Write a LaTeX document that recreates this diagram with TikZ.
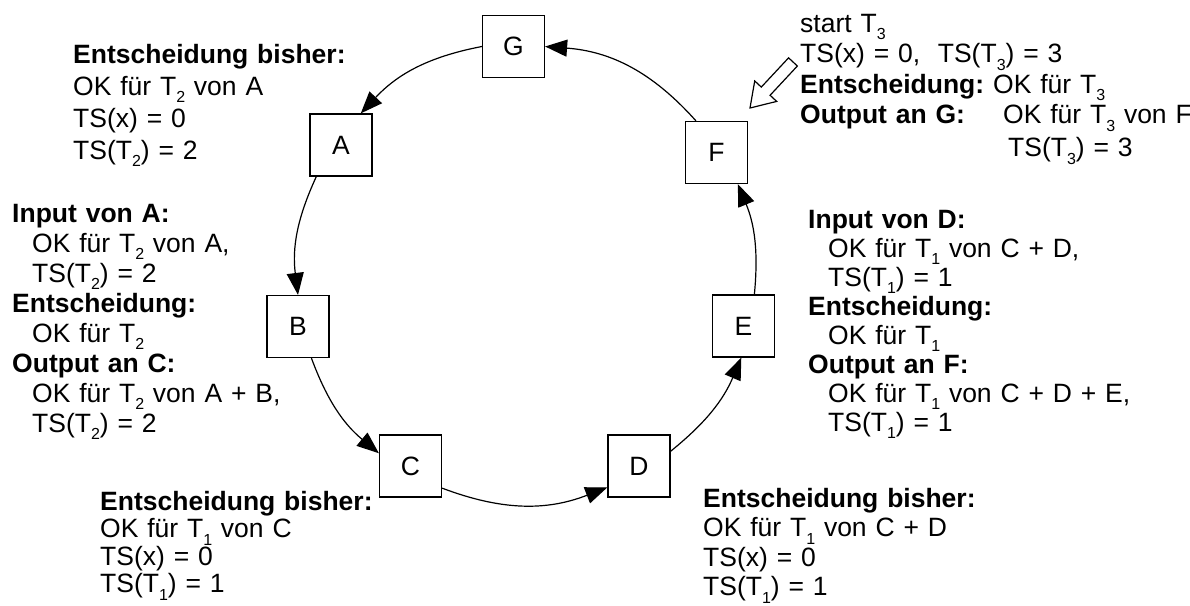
\documentclass[tikz,border=0pt]{standalone}
\usepackage{fontspec}
\setmainfont{Liberation Sans}
\usetikzlibrary{arrows.meta, positioning}
\newcommand\Tsub[1]{T\raisebox{-0.3em}{\fontsize{16}{16}\selectfont #1}}
\newcommand\ind{\hspace*{20pt}}
\tikzset{
    % Ring of sites
    site/.style={rectangle, draw=black, line width=1.2pt, fill=white,
                minimum width=62pt, minimum height=62pt, inner sep=0pt,
                font=\fontsize{26.5}{30}\selectfont},
    ringarrow/.style={-{Triangle[length=22pt, width=17pt]}, line width=1.2pt},
    % Annotations (argument = line spacing)
    note/.style={align=left, text width=330pt, anchor=base west, inner sep=0pt,
                font=\fontsize{26.5}{#1}\selectfont},
    note/.default=30,
}
\begin{document}
\lineskiplimit=-50pt
\begin{tikzpicture}[x=1pt, y=1pt]
\useasboundingbox (0,0) rectangle (1190,-605);

\node[site] (G) at (513.5,-46.5) {G};
\node[site] (A) at (341,-145)    {A};
\node[site] (B) at (298,-326.5)  {B};
\node[site] (C) at (410.5,-466)  {C};
\node[site] (D) at (639,-466)    {D};
\node[site] (E) at (743.5,-326)  {E};
\node[site] (F) at (716.5,-152.5) {F};

\draw[ringarrow] (G.180) to[bend right=18] (A.58);
\draw[ringarrow] (A.232) to[bend right=16] (B.north);
\draw[ringarrow] (B.293) to[bend right=15] (C.158);
\draw[ringarrow] (C.325) to[bend right=21] (D.214);
\draw[ringarrow] (D.25)  to[bend right=14] (E.266);
\draw[ringarrow] (E.71)  to[bend right=14] (F.304);
\draw[ringarrow] (F.123) to[bend right=22] (G.east);

% start marker
\coordinate (start) at (750,-108);
\begin{scope}[shift={(start)}, rotate=47]
\draw[line width=1.2pt, fill=white] (0,0) -- (23,15) -- (23,6) -- (63,6)
    -- (63,-6) -- (23,-6) -- (23,-15) -- cycle;
\end{scope}

\node[note=32] (prevA) at (73,-63) {\textbf{Entscheidung bisher:}\\
    OK für \Tsub{2} von A\\ TS(x) = 0\\ TS(\Tsub{2}) = 2};
\node[note] (stepB) at (12,-222) {\textbf{Input von A:}\\
    \ind OK für \Tsub{2} von A,\\ \ind TS(\Tsub{2}) = 2\\
    \textbf{Entscheidung:}\\ \ind OK für \Tsub{2}\\
    \textbf{Output an C:}\\ \ind OK für \Tsub{2} von A + B,\\ \ind TS(\Tsub{2}) = 2};
\node[note=27.5] (prevC) at (100,-510) {\textbf{Entscheidung bisher:}\\
    OK für \Tsub{1} von C\\ TS(x) = 0\\ TS(\Tsub{1}) = 1};
\node[note=29.5] (prevD) at (703,-507) {\textbf{Entscheidung bisher:}\\
    OK für \Tsub{1} von C + D\\ TS(x) = 0\\ TS(\Tsub{1}) = 1};
\node[note=29] (stepE) at (808,-228) {\textbf{Input von D:}\\
    \ind OK für \Tsub{1} von C + D,\\ \ind TS(\Tsub{1}) = 1\\
    \textbf{Entscheidung:}\\ \ind OK für \Tsub{1}\\
    \textbf{Output an F:}\\ \ind OK für \Tsub{1} von C + D + E,\\ \ind TS(\Tsub{1}) = 1};
\node[note=30.5] (stepF) at (800,-32) {start \Tsub{3}\\
    TS(x) = 0,\ \ TS(\Tsub{3}) = 3\\ \textbf{Entscheidung:}\\ \textbf{Output an G:}};
\node[note] (decF) at (993,-93) {OK für \Tsub{3}};
\node[note=33] (outF) at (1003,-123.5) {OK für \Tsub{3} von F\\ \hspace*{5pt}TS(\Tsub{3}) = 3};
\end{tikzpicture}
\end{document}
